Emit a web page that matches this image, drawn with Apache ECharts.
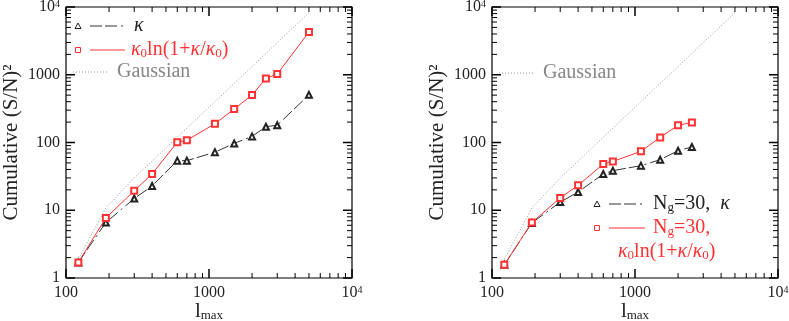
<!DOCTYPE html>
<html lang="en">
<head>
    <meta charset="UTF-8">
    <title>Cumulative S/N</title>
    <style>
        html, body {margin: 0; padding: 0; background: #fff;}
        #main {width: 789px; height: 321px;}
    </style>
</head>
<body>
<div id="main"></div>
</body>
<script src="https://cdn.jsdelivr.net/npm/echarts@6/dist/echarts.min.js"></script>
<script>
    // left panel
    const lmaxLeft = [122, 190, 300, 400, 600, 700, 1100, 1500, 2000, 2500, 3000, 5000]
    const kappaLeft = [1.7, 6.6, 14.9, 22.8, 54, 54, 72, 97, 123, 171, 180, 505]
    const logLeft = [1.7, 7.7, 19.4, 34.4, 101, 108, 189, 312, 502, 883, 1025, 4270]
    // right panel (N_g = 30)
    const lmaxRight = [122, 190, 300, 400, 600, 700, 1100, 1500, 2000, 2500]
    const kappaRight = [1.57, 6.5, 13.2, 18.6, 34.3, 38.4, 45.5, 55.7, 75.7, 86]
    const logRight = [1.57, 6.6, 15.2, 23.3, 48.2, 52.6, 74, 119, 179, 198]
    // gaussian reference, same in both panels
    const lmaxGauss = [122, 190, 300, 400, 600, 700, 1100, 1500, 2000, 2500, 3000, 5000]
    const gaussVals = [1.9, 10.8, 30, 53, 120, 163, 400, 745, 1320, 2070, 2980, 8200]

    // tick positions
    const xMajor = [100, 1000, 10000]
    const yMajor = [1, 10, 100, 1000, 10000]
    const xMinor = [200, 300, 400, 500, 600, 700, 800, 900, 2000, 3000, 4000, 5000, 6000, 7000, 8000, 9000]
    const yMinor = [2, 3, 4, 5, 6, 7, 8, 9, 20, 30, 40, 50, 60, 70, 80, 90,
        200, 300, 400, 500, 600, 700, 800, 900, 2000, 3000, 4000, 5000, 6000, 7000, 8000, 9000]

    const FONT = '"Liberation Serif", "DejaVu Serif", serif'
    const RED = '#ff3333'
    const DARK = '#222'
    const GREY = '#999'
    const KDASH = [12, 3, 12, 4, 2, 4]

    function pairs(xs, ys) {
        return xs.map((x, i) => [x, ys[i]])
    }

    // kind: 0 x minor, 1 x major, 2 y minor, 3 y major
    let tickData = []
    xMinor.forEach(v => tickData.push([v, 1, 0]))
    xMajor.forEach(v => tickData.push([v, 1, 1]))
    yMinor.forEach(v => tickData.push([100, v, 2]))
    yMajor.forEach(v => tickData.push([100, v, 3]))

    function renderTicks(params, api) {
        let kind = api.value(2)
        let len = kind % 2 ? 9 : 5
        let w = kind % 2 ? 1.5 : 1
        let cs = params.coordSys
        let st = {stroke: '#000', lineWidth: w}
        if (kind < 2) {
            let px = api.coord([api.value(0), 1])[0]
            let b = cs.y + cs.height
            return {type: 'group', children: [
                {type: 'line', shape: {x1: px, y1: b, x2: px, y2: b - len}, style: st},
                {type: 'line', shape: {x1: px, y1: cs.y, x2: px, y2: cs.y + len}, style: st}
            ]}
        }
        let py = api.coord([100, api.value(1)])[1]
        let r = cs.x + cs.width
        return {type: 'group', children: [
            {type: 'line', shape: {x1: cs.x, y1: py, x2: cs.x + len, y2: py}, style: st},
            {type: 'line', shape: {x1: r, y1: py, x2: r - len, y2: py}, style: st}
        ]}
    }

    function labelFmt(v) {
        let r = Math.round(v)
        return r === 10000 ? '10{sup|4}' : String(r)
    }

    function makeX(idx) {
        return {
            type: 'log', logBase: 10, min: 100, max: 10000, gridIndex: idx,
            axisLine: {show: false}, axisTick: {show: false}, splitLine: {show: false},
            axisLabel: {
                formatter: labelFmt, fontFamily: FONT, fontSize: 16, color: DARK, margin: 7,
                rich: {sup: {fontSize: 10, fontFamily: FONT, color: DARK, verticalAlign: 'top'}}
            },
            name: '{a|l}{s|max}', nameLocation: 'middle', nameGap: 23, nameMoveOverlap: false,
            nameTextStyle: {
                rich: {
                    a: {fontSize: 21, fontFamily: FONT, color: DARK},
                    s: {fontSize: 13, fontFamily: FONT, color: DARK, verticalAlign: 'bottom'}
                }
            }
        }
    }

    function makeY(idx) {
        return {
            type: 'log', logBase: 10, min: 1, max: 10000, gridIndex: idx,
            axisLine: {show: false}, axisTick: {show: false}, splitLine: {show: false},
            axisLabel: {
                formatter: labelFmt, fontFamily: FONT, fontSize: 16, color: DARK, margin: 6,
                rich: {sup: {fontSize: 10, fontFamily: FONT, color: DARK, verticalAlign: 'top'}}
            },
            name: 'Cumulative (S/N)²', nameLocation: 'middle', nameRotate: 90, nameGap: 44,
            nameMoveOverlap: false,
            nameTextStyle: {fontFamily: FONT, fontSize: 21, color: DARK}
        }
    }

    function kappaSeries(idx, data) {
        return {
            type: 'line', xAxisIndex: idx, yAxisIndex: idx, data: data,
            symbol: 'emptyTriangle', symbolSize: 6, z: 3,
            itemStyle: {color: DARK, borderWidth: 0.9},
            lineStyle: {color: '#333', width: 1, type: KDASH}
        }
    }

    function logSeries(idx, data) {
        return {
            type: 'line', xAxisIndex: idx, yAxisIndex: idx, data: data,
            symbol: 'emptyRect', symbolSize: 6, z: 4,
            itemStyle: {color: RED, borderWidth: 0.9},
            lineStyle: {color: RED, width: 1}
        }
    }

    function gaussSeries(idx) {
        return {
            type: 'line', xAxisIndex: idx, yAxisIndex: idx, data: pairs(lmaxGauss, gaussVals),
            symbol: 'none', z: 2,
            lineStyle: {color: GREY, width: 1, type: [1, 2]}
        }
    }

    function tickSeries(idx) {
        return {
            type: 'custom', xAxisIndex: idx, yAxisIndex: idx, data: tickData,
            encode: {x: 0, y: 1}, renderItem: renderTicks, silent: true, z: 5
        }
    }

    const kRich = {
        i: {fontStyle: 'italic', fontFamily: FONT, fontSize: 20},
        s: {fontFamily: FONT, fontSize: 13, verticalAlign: 'bottom'}
    }
    const logLabel = '{i|κ}{s|0}ln(1+{i|κ}/{i|κ}{s|0})'

    function txt(x, y, text, color) {
        return {
            type: 'text', x: x, y: y,
            style: {text: text, fill: color, fontFamily: FONT, fontSize: 20, verticalAlign: 'middle', rich: kRich}
        }
    }

    function hline(x1, x2, y, color, dash) {
        return {type: 'line', shape: {x1: x1, y1: y, x2: x2, y2: y},
            style: {stroke: color, lineWidth: 1, lineDash: dash || null}}
    }

    function tri(cx, cy) {
        return {type: 'polygon', shape: {points: [[cx, cy - 3], [cx + 3, cy + 2.5], [cx - 3, cy + 2.5]]},
            style: {fill: 'none', stroke: DARK, lineWidth: 1}}
    }

    function sq(cx, cy) {
        return {type: 'rect', shape: {x: cx - 2.5, y: cy - 2.5, width: 5, height: 5},
            style: {fill: 'none', stroke: RED, lineWidth: 1}}
    }

    let chart = echarts.init(document.getElementById('main'), null, {renderer: 'canvas'})
    let option = {
        animation: false,
        backgroundColor: '#fff',
        grid: [
            {left: 66, right: 437, top: 7, bottom: 43, show: true, borderColor: '#000', borderWidth: 1.2, outerBoundsMode: 'none'},
            {left: 492, right: 11, top: 7, bottom: 43, show: true, borderColor: '#000', borderWidth: 1.2, outerBoundsMode: 'none'}
        ],
        xAxis: [makeX(0), makeX(1)],
        yAxis: [makeY(0), makeY(1)],
        series: [
            gaussSeries(0),
            kappaSeries(0, pairs(lmaxLeft, kappaLeft)),
            logSeries(0, pairs(lmaxLeft, logLeft)),
            tickSeries(0),
            gaussSeries(1),
            kappaSeries(1, pairs(lmaxRight, kappaRight)),
            logSeries(1, pairs(lmaxRight, logRight)),
            tickSeries(1)
        ],
        graphic: [
            // left legend
            tri(78, 26), hline(90, 125, 26, '#333', KDASH), txt(134, 26, '{i|κ}', DARK),
            sq(78, 50), hline(90, 125, 50, RED), txt(131, 50, logLabel, RED),
            hline(73, 109, 72, GREY, [1, 2]), txt(117, 72, 'Gaussian', '#888'),
            // right legend
            hline(499, 535, 73, GREY, [1, 2]), txt(543, 73, 'Gaussian', '#888'),
            tri(597, 204), hline(609, 645, 204, '#333', KDASH), txt(653, 204, 'N{s|g}=30,  {i|κ}', DARK),
            sq(597, 228), hline(609, 645, 228, RED), txt(653, 228, 'N{s|g}=30,', RED),
            txt(618, 252, logLabel, RED)
        ]
    }
    chart.setOption(option)
</script>
</html>
